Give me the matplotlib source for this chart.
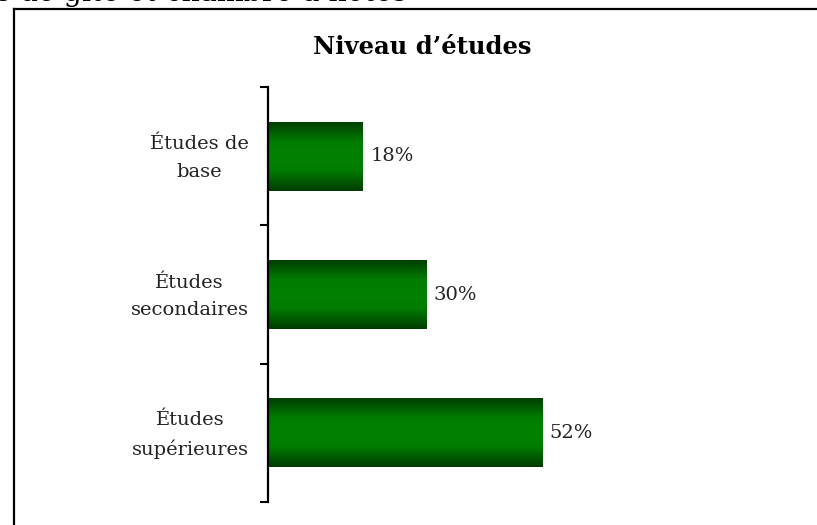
import numpy as np
import matplotlib
matplotlib.use("Agg")
import matplotlib.pyplot as plt
import matplotlib.transforms as mtransforms
from matplotlib.colors import LinearSegmentedColormap
from matplotlib.lines import Line2D

# Niveau d'études - barres horizontales
categories = ["Études de\nbase", "Études\nsecondaires", "Études\nsupérieures"]
values = [18, 30, 52]
value_labels = ["18%", "30%", "52%"]
title = "Niveau d’études"
page_text = "s de gîte et chambre d’hôtes"

plt.rcParams['font.family'] = ['DejaVu Serif']

fig = plt.figure(figsize=(8.17, 5.25), dpi=100)
W, H = 817, 525

# text of the page above the chart (cut off)
fig.text(-4 / W, 1 - 1.0 / H, page_text, fontsize=20.5, ha='left', va='baseline',
         color='black')

# chart frame (only left and top edges are visible)
fig.add_artist(Line2D([14 / W, 14 / W], [-0.05, 1 - 9 / H], color='black',
                      lw=1.6, transform=fig.transFigure))
fig.add_artist(Line2D([14 / W, 1.05], [1 - 9 / H, 1 - 9 / H], color='black',
                      lw=1.6, transform=fig.transFigure))

fig.text(422 / W, 1 - 54 / H, title, fontsize=17.5, fontweight='bold',
         ha='center', va='baseline')

ax = fig.add_axes([268 / W, 1 - 502 / H, 527 / W, 415 / H])
ypos = np.arange(len(categories))
bars = ax.barh(ypos, values, height=0.5, color='#007000', edgecolor='none')

# vertical gradient inside each bar
cmap = LinearSegmentedColormap.from_list(
    'vert', [(0, '#003c00'), (0.3, '#007d00'), (0.5, '#008000'),
             (0.7, '#007d00'), (1, '#003c00')])
grad = np.linspace(0, 1, 200).reshape(-1, 1)
for b in bars:
    x0, y0 = b.get_x(), b.get_y()
    im = ax.imshow(grad, cmap=cmap, aspect='auto', interpolation='bicubic',
                   extent=[x0, x0 + b.get_width(), y0 + b.get_height(), y0],
                   zorder=2)
    im.set_clip_path(b)

for y, v, lab in zip(ypos, values, value_labels):
    ax.text(v + 1.4, y, lab, va='center', ha='left', fontsize=14,
            color='#222222')

ax.set_xlim(0, 100)
ax.set_ylim(2.5, -0.5)
ax.set_yticks(ypos)
ax.set_yticklabels(categories, fontsize=14, color='#222222',
                   multialignment='center', linespacing=1.7)
ax.tick_params(axis='y', which='major', length=0, pad=14)
# nudge the category labels up a little
shift = mtransforms.ScaledTranslation(0, 5 / 100, fig.dpi_scale_trans)
for t in ax.get_yticklabels():
    t.set_transform(t.get_transform() + shift)
ax.set_yticks([-0.5, 0.5, 1.5, 2.5], minor=True)
ax.tick_params(axis='y', which='minor', length=6, width=1.5, direction='out')
ax.set_xticks([])
for s in ['top', 'right', 'bottom']:
    ax.spines[s].set_visible(False)
ax.spines['left'].set_linewidth(1.6)

fig.savefig("out.png", dpi=100)
